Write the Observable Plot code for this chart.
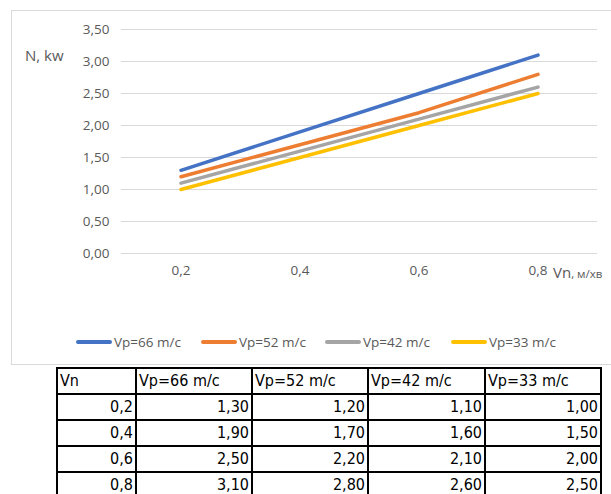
<!DOCTYPE html>
<html>
<head>
<meta charset="utf-8">
<script src="https://cdn.jsdelivr.net/npm/d3@7"></script>
<script src="https://cdn.jsdelivr.net/npm/@observablehq/plot@0.6"></script>
<style>
  html, body { margin: 0; padding: 0; background: #fff; }
  body { width: 611px; height: 494px; overflow: hidden; position: relative; font-family: "Open Sans", "Segoe UI", sans-serif; }
  #box { position: absolute; left: 11px; top: 10px; width: 640px; height: 355px; border: 1px solid #d9d9d9; box-sizing: border-box; }
  #chart { position: absolute; left: 0; top: 0; }
  .lbl { position: absolute; color: #595959; white-space: nowrap; }
  #legend { position: absolute; left: 0; top: 333px; width: 611px; height: 18px; }
  .lg { position: absolute; top: 0; height: 18px; display: flex; align-items: center; color: #595959; font-size: 13.5px; }
  .sw { width: 36px; height: 3.5px; border-radius: 2px; margin-right: 2px; }
  table { position: absolute; left: 56px; top: 367px; border-collapse: collapse; font-family: "Liberation Sans Narrow", "DejaVu Sans Condensed", "Liberation Sans", sans-serif; font-size: 16px; color: #000; }
  td { border: 2px solid #000; height: 25.6px; padding: 0 2px; line-height: 24px; box-sizing: border-box; }
  td.h { text-align: left; }
  td.n { text-align: right; }
</style>
</head>
<body>
<div id="box"></div>
<div id="chart"></div>
<div class="lbl" style="left:25px; top:45px; font-size:15px;">N, kw</div>
<div class="lbl" style="left:553px; top:262px; font-size:15px;">Vn<span style="font-size:11.5px;">, м/хв</span></div>
<div id="legend"></div>
<table id="tbl"></table>
<script>
// ---- data ----
const vn = [0.2, 0.4, 0.6, 0.8];
const seriesNames = ["Vp=66 m/c", "Vp=52 m/c", "Vp=42 m/c", "Vp=33 m/c"];
const vp66 = [1.30, 1.90, 2.50, 3.10];
const vp52 = [1.20, 1.70, 2.20, 2.80];
const vp42 = [1.10, 1.60, 2.10, 2.60];
const vp33 = [1.00, 1.50, 2.00, 2.50];
const yTicks = [0, 0.5, 1, 1.5, 2, 2.5, 3, 3.5];
const xTicks = [0.2, 0.4, 0.6, 0.8];
const colors = ["#4472C4", "#ED7D31", "#A5A5A5", "#FFC000"];

const seriesValues = [vp66, vp52, vp42, vp33];
const rows = [];
seriesNames.forEach((s, i) => vn.forEach((x, j) => rows.push({series: s, x, y: seriesValues[i][j]})));

const fmtY = d => d.toFixed(2).replace(".", ",");
const fmtX = d => d.toFixed(1).replace(".", ",");

const chart = Plot.plot({
  width: 611,
  height: 367,
  marginLeft: 121,
  marginRight: 14,
  marginTop: 29,
  marginBottom: 114,
  style: {fontFamily: "'Open Sans', sans-serif", fontSize: "13.5px", color: "#595959", background: "transparent"},
  x: {type: "linear", domain: [0.1, 0.9]},
  y: {domain: [0, 3.5]},
  color: {domain: seriesNames, range: colors},
  marks: [
    Plot.ruleY(yTicks, {stroke: "#d9d9d9", strokeWidth: 1}),
    Plot.axisY({ticks: yTicks, tickSize: 0, tickPadding: 12, tickFormat: fmtY, label: null}),
    Plot.axisX({ticks: xTicks, tickSize: 0, tickPadding: 12, tickFormat: fmtX, label: null}),
    Plot.line(rows, {x: "x", y: "y", z: "series", stroke: "series", strokeWidth: 3.5, strokeLinecap: "round"})
  ]
});
document.getElementById("chart").appendChild(chart);

// legend
const legendX = [76, 201, 325, 451];
const legend = document.getElementById("legend");
seriesNames.forEach((s, i) => {
  const el = document.createElement("div");
  el.className = "lg";
  el.style.left = legendX[i] + "px";
  el.innerHTML = `<span class="sw" style="background:${colors[i]}"></span><span>${s}</span>`;
  legend.appendChild(el);
});

// table
const colW = [79, 116, 116, 117, 116];
const tbl = document.getElementById("tbl");
const head = document.createElement("tr");
["Vn", ...seriesNames].forEach((h, i) => {
  const td = document.createElement("td");
  td.className = "h"; td.textContent = h; td.style.width = colW[i] + "px";
  head.appendChild(td);
});
tbl.appendChild(head);
vn.forEach((x, j) => {
  const tr = document.createElement("tr");
  const c0 = document.createElement("td"); c0.className = "n"; c0.textContent = fmtX(x); tr.appendChild(c0);
  seriesValues.forEach(v => {
    const td = document.createElement("td"); td.className = "n"; td.textContent = fmtY(v[j]); tr.appendChild(td);
  });
  tbl.appendChild(tr);
});
</script>
</body>
</html>
